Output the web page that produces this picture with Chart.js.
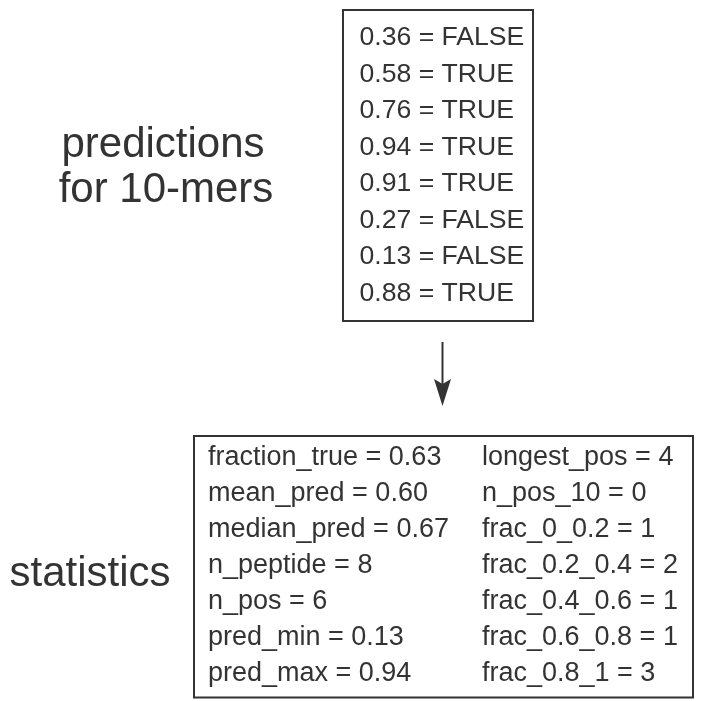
<!DOCTYPE html>
<html>
<head>
<meta charset="utf-8">
<script src="https://cdn.jsdelivr.net/npm/chart.js@4"></script>
<style>
  html, body { margin: 0; padding: 0; background: #ffffff; }
  #wrap { width: 707px; height: 701px; }
</style>
</head>
<body>
<div id="wrap"><canvas id="chart" width="707" height="701"></canvas></div>
<script>
// predictions for the 10-mers
const predValues = [0.36, 0.58, 0.76, 0.94, 0.91, 0.27, 0.13, 0.88];
const predCalls = ['FALSE', 'TRUE', 'TRUE', 'TRUE', 'TRUE', 'FALSE', 'FALSE', 'TRUE'];

// summary statistics, two columns
const statNamesLeft = ['fraction_true', 'mean_pred', 'median_pred', 'n_peptide', 'n_pos', 'pred_min', 'pred_max'];
const statValuesLeft = ['0.63', '0.60', '0.67', '8', '6', '0.13', '0.94'];
const statNamesRight = ['longest_pos', 'n_pos_10', 'frac_0_0.2', 'frac_0.2_0.4', 'frac_0.4_0.6', 'frac_0.6_0.8', 'frac_0.8_1'];
const statValuesRight = ['4', '0', '1', '2', '1', '1', '3'];

const sideLabels = ['predictions', 'for 10-mers', 'statistics'];

const INK = '#333333';
const FONT = '"Liberation Sans", Arial, Helvetica, sans-serif';

const diagramPlugin = {
  id: 'diagram',
  afterDraw(chart) {
    const ctx = chart.ctx;
    const xs = chart.scales.x;
    const ys = chart.scales.y;
    const px = v => xs.getPixelForValue(v);
    const py = v => ys.getPixelForValue(v);

    ctx.save();
    ctx.strokeStyle = INK;
    ctx.fillStyle = INK;
    ctx.lineWidth = 2;

    // top box with predictions
    ctx.strokeRect(px(343), py(10), px(533) - px(343), py(321) - py(10));
    ctx.font = '26.6px ' + FONT;
    ctx.textBaseline = 'middle';
    ctx.textAlign = 'left';
    predValues.forEach((v, i) => {
      ctx.fillText(v.toFixed(2) + ' = ' + predCalls[i], px(359.5), py(38 + i * 36.5));
    });

    // arrow
    ctx.beginPath();
    ctx.moveTo(px(442.5), py(342));
    ctx.lineTo(px(442.5), py(386));
    ctx.stroke();
    ctx.beginPath();
    ctx.moveTo(px(442.5), py(406));
    ctx.lineTo(px(434), py(379));
    ctx.lineTo(px(442.5), py(384));
    ctx.lineTo(px(451), py(379));
    ctx.closePath();
    ctx.fill();

    // bottom box with statistics
    ctx.strokeRect(px(194), py(436), px(693) - px(194), py(697.5) - py(436));
    ctx.font = '27px ' + FONT;
    statNamesLeft.forEach((n, i) => {
      ctx.fillText(n + ' = ' + statValuesLeft[i], px(208), py(458 + i * 36));
    });
    statNamesRight.forEach((n, i) => {
      ctx.fillText(n + ' = ' + statValuesRight[i], px(482), py(458 + i * 36));
    });

    // side labels
    ctx.font = '42px ' + FONT;
    ctx.textAlign = 'center';
    ctx.textBaseline = 'alphabetic';
    ctx.fillText(sideLabels[0], px(163), py(157));
    ctx.fillText(sideLabels[1], px(166), py(201.5));
    ctx.fillText(sideLabels[2], px(90), py(586));
    ctx.restore();
  }
};

new Chart(document.getElementById('chart'), {
  type: 'scatter',
  data: { datasets: [] },
  options: {
    responsive: false,
    animation: false,
    layout: { padding: 0 },
    plugins: { legend: { display: false }, tooltip: { enabled: false } },
    scales: {
      x: { type: 'linear', min: 0, max: 707, display: false },
      y: { type: 'linear', min: 0, max: 701, reverse: true, display: false }
    }
  },
  plugins: [diagramPlugin]
});
</script>
</body>
</html>
